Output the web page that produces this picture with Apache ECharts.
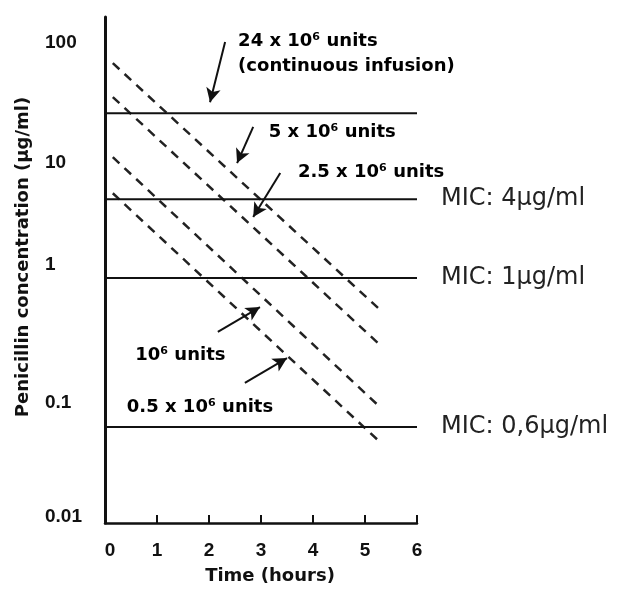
<!DOCTYPE html>
<html><head><meta charset="utf-8">
<script src="https://cdn.jsdelivr.net/npm/echarts@6/dist/echarts.min.js"></script>
<style>html,body{margin:0;padding:0;background:#fff}#c{width:618px;height:589px}</style>
</head><body><div id="c"></div>
<script>
// ---- data ----
var xTicks = [0, 1, 2, 3, 4, 5, 6];
var yTickExps = [-2, -1, 0, 1, 2];
var yTickLabels = ['0.01', '0.1', '1', '10', '100'];

var levelNames = ['Continuous infusion', 'MIC: 4µg/ml', 'MIC: 1µg/ml', 'MIC: 0,6µg/ml'];
var levelLabels = ['', 'MIC: 4µg/ml', 'MIC: 1µg/ml', 'MIC: 0,6µg/ml'];
var levelValues = [26, 5.0, 1.1, 0.063];

var doseNames = ['5 x 10⁶ units', '2.5 x 10⁶ units', '10⁶ units', '0.5 x 10⁶ units'];
var doseStart = [[0.15, 68], [0.15, 35.5], [0.15, 11.2], [0.15, 5.6]];
var doseEnd = [[5.25, 0.62], [5.25, 0.316], [5.25, 0.096], [5.25, 0.049]];

var noteTexts = ['24 x 10⁶ units', '(continuous infusion)', '5 x 10⁶ units', '2.5 x 10⁶ units', '10⁶ units', '0.5 x 10⁶ units'];
var noteX = [2.56, 2.56, 3.15, 3.71, 0.58, 0.42];
var noteY = [104, 64, 18.1, 8.4, 0.251, 0.0927];

var arrowFrom = [[2.31, 102], [2.85, 20], [3.37, 8.25], [2.17, 0.391], [2.69, 0.147]];
var arrowTo = [[2.02, 32.2], [2.54, 10], [2.85, 3.55], [2.98, 0.63], [3.5, 0.237]];

// ---- chart ----
var chart = echarts.init(document.getElementById('c'), null, {renderer: 'canvas'});
var tickFont = {fontFamily: 'Liberation Sans', fontWeight: 'bold', fontSize: 19, color: '#111'};
var nameFont = {fontFamily: 'DejaVu Sans', fontWeight: 'bold', fontSize: 18, color: '#111'};

var series = [];
levelValues.forEach(function (v, i) {
  var s = {
    name: levelNames[i], type: 'line', showSymbol: false, silent: true,
    data: [[xTicks[0], v], [xTicks[xTicks.length - 1], v]],
    lineStyle: {color: '#111', width: 2, type: 'solid'},
    z: 3
  };
  if (levelLabels[i]) {
    s.endLabel = {show: true, formatter: levelLabels[i], distance: 24,
      fontFamily: 'DejaVu Sans', fontSize: 24, color: '#222'};
  }
  if (i === 0) {
    s.markLine = {
      silent: true, symbol: ['none', 'arrow'], symbolSize: [11, 14],
      lineStyle: {type: 'solid', color: '#111', width: 2},
      label: {show: false},
      data: arrowFrom.map(function (f, k) { return [{coord: f}, {coord: arrowTo[k]}]; })
    };
  }
  series.push(s);
});
doseNames.forEach(function (n, i) {
  series.push({
    name: n, type: 'line', showSymbol: false, silent: true,
    data: [doseStart[i], doseEnd[i]],
    lineStyle: {color: '#222', width: 2.5, type: [9, 7]},
    z: 2
  });
});
series.push({
  name: 'notes', type: 'scatter', symbolSize: 0, silent: true,
  itemStyle: {opacity: 1, color: '#000'},
  data: noteX.map(function (x, i) { return [x, noteY[i], noteTexts[i]]; }),
  label: {show: true, position: [0, 0], align: 'left', verticalAlign: 'middle',
    formatter: function (p) { return p.value[2]; },
    fontFamily: 'DejaVu Sans', fontWeight: 'bold', fontSize: 18, color: '#000', opacity: 1}
});

var option = {
  animation: false,
  backgroundColor: '#fff',
  grid: {left: 105, right: 201, top: 17, bottom: 66, outerBoundsMode: 'none', containLabel: false},
  xAxis: {
    type: 'value', min: 0, max: 6, interval: 1,
    axisLine: {onZero: false, lineStyle: {color: '#111', width: 2.5}},
    axisTick: {inside: true, length: 8, lineStyle: {color: '#111', width: 2}},
    splitLine: {show: false},
    axisLabel: {
      margin: 18,
      formatter: function (v) { return v === 0 ? '{z|0}' : '{n|' + v + '}'; },
      rich: {n: tickFont, z: Object.assign({padding: [0, 0, 0, 10]}, tickFont)}
    },
    name: 'Time (hours)', nameLocation: 'middle', nameGap: 44,
    nameTextStyle: Object.assign({padding: [0, 0, 0, 18]}, nameFont)
  },
  yAxis: {
    type: 'log', logBase: 10, min: 0.01, max: 165,
    axisLine: {show: true, lineStyle: {color: '#111', width: 3}},
    axisTick: {show: false},
    splitLine: {show: false},
    axisLabel: {
      align: 'left', margin: 60, showMaxLabel: true, hideOverlap: false,
      formatter: function (v) {
        var l = Math.log10(v), e = Math.round(l);
        if (Math.abs(l - e) > 1e-6) return '';
        var k = yTickExps.indexOf(e);
        if (k < 0) return '';
        var t = yTickLabels[k];
        if (e === 0) return '{u18|' + t + '}';
        if (e === -2) return '{u6|' + t + '}';
        return '{n|' + t + '}';
      },
      rich: {
        n: tickFont,
        u18: Object.assign({padding: [0, 0, 36, 0]}, tickFont),
        u6: Object.assign({padding: [0, 0, 12, 0]}, tickFont)
      }
    },
    name: 'Penicillin concentration (µg/ml)', nameLocation: 'middle', nameRotate: 90, nameGap: 73,
    nameTextStyle: Object.assign({padding: [0, 0, 0, 26]}, nameFont)
  },
  series: series
};
chart.setOption(option);
</script></body></html>
